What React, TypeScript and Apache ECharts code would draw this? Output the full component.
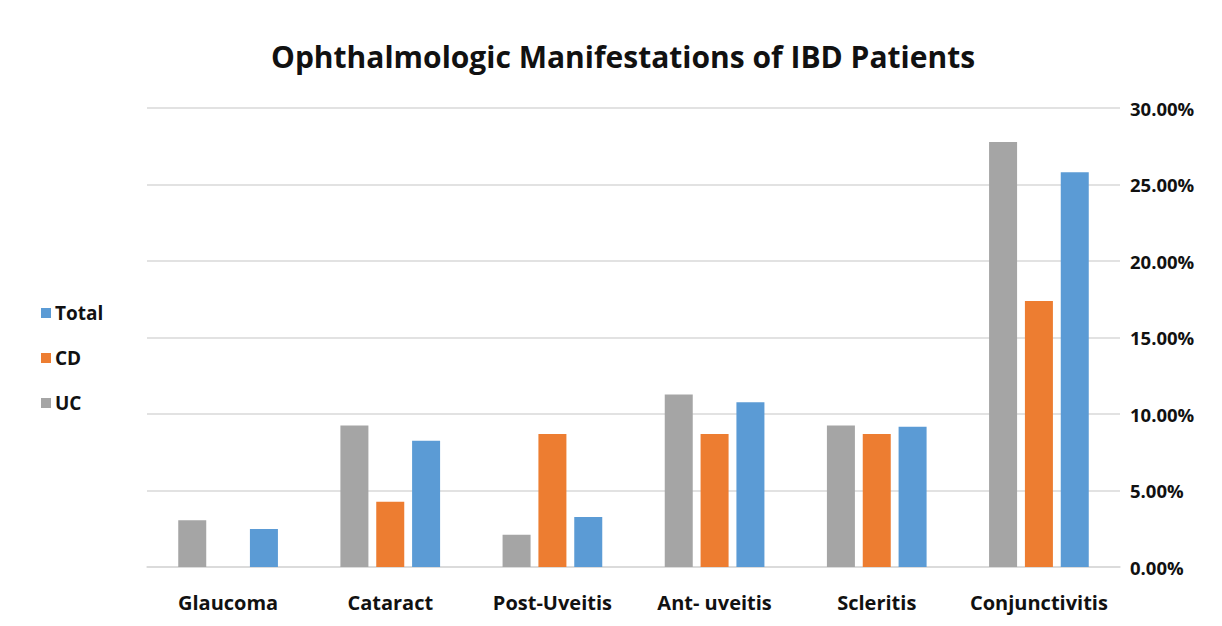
import React, { useEffect, useRef } from "react";
import * as echarts from "echarts";

const categories = ["Glaucoma", "Cataract", "Post-Uveitis", "Ant- uveitis", "Scleritis", "Conjunctivitis"];
const ucValues = [3.05, 9.25, 2.1, 11.27, 9.25, 27.78];
const cdValues = [0, 4.27, 8.7, 8.7, 8.7, 17.39];
const totalValues = [2.48, 8.25, 3.27, 10.77, 9.17, 25.8];
const titleText = "Ophthalmologic Manifestations of IBD Patients";

const FONT = "'Open Sans', 'Noto Sans', sans-serif";

export default function App() {
  const ref = useRef<HTMLDivElement>(null);
  useEffect(() => {
    if (!ref.current) return;
    const chart = echarts.init(ref.current, null, { renderer: "svg" });
    const barStyle = { barWidth: 28, barGap: "28%" };
    chart.setOption({
      animation: false,
      backgroundColor: "#ffffff",
      title: {
        text: titleText,
        left: 266,
        top: 36,
        textStyle: { fontFamily: FONT, fontWeight: "bold", fontSize: 30, color: "#111" },
      },
      legend: {
        orient: "vertical",
        left: 36,
        top: 298,
        itemGap: 25,
        itemWidth: 10,
        itemHeight: 10,
        icon: "rect",
        data: ["Total", "CD", "UC"],
        textStyle: { fontFamily: FONT, fontWeight: "bold", fontSize: 19, lineHeight: 20, color: "#111", padding: [0, 0, 0, -1] },
      },
      grid: { left: 147, right: 102, top: 108, bottom: 59, containLabel: false },
      xAxis: {
        type: "category",
        data: categories,
        axisLine: { show: true, lineStyle: { color: "#d9d9d9", width: 1.5 } },
        axisTick: { show: false },
        axisLabel: { interval: 0, fontFamily: FONT, fontWeight: "bold", fontSize: 20, color: "#111", margin: 25 },
      },
      yAxis: {
        type: "value",
        position: "right",
        min: 0,
        max: 30,
        interval: 5,
        axisLine: { show: false },
        axisTick: { show: false },
        splitLine: { lineStyle: { color: "#d9d9d9", width: 1.5 } },
        axisLabel: {
          fontFamily: FONT,
          fontWeight: "bold",
          fontSize: 18.5,
          color: "#111",
          margin: 10,
          formatter: (v: number) => v.toFixed(2) + "%",
        },
      },
      series: [
        { name: "UC", type: "bar", data: ucValues, itemStyle: { color: "#A5A5A5" }, ...barStyle },
        { name: "CD", type: "bar", data: cdValues, itemStyle: { color: "#ED7D31" }, ...barStyle },
        { name: "Total", type: "bar", data: totalValues, itemStyle: { color: "#5B9BD5" }, ...barStyle },
      ],
    });
    return () => chart.dispose();
  }, []);
  return (
    <div
      ref={ref}
      style={{ position: "absolute", left: 0, top: 0, width: 1222, height: 626 }}
    />
  );
}
